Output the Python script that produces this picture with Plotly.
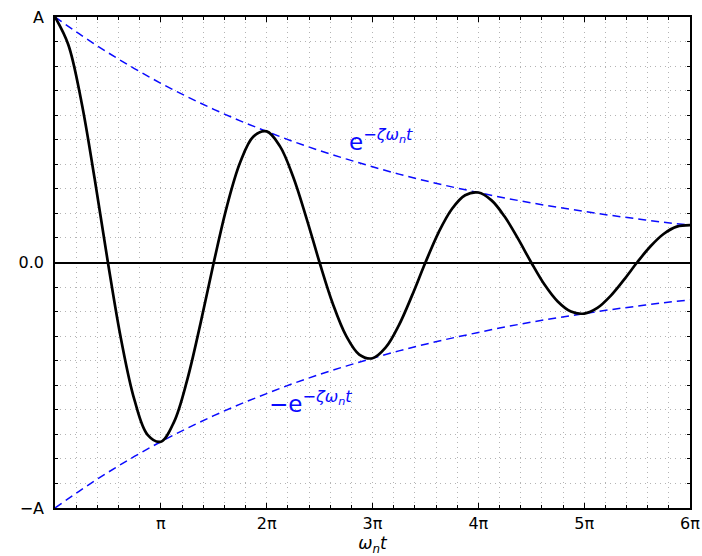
import numpy as np
import plotly.graph_objects as go

PI = np.pi
# sample positions in units of pi (every pi/8)
x_curve_pi = [k / 8 for k in range(49)]
# damped response values (A = 1)
y_curve = [1.000, 0.888, 0.654, 0.340, 0.0, -0.315, -0.559, -0.702,
           -0.730, -0.649, -0.477, -0.248, 0.0, 0.230, 0.408, 0.513,
           0.534, 0.474, 0.349, 0.182, 0.0, -0.168, -0.298, -0.375,
           -0.390, -0.346, -0.255, -0.133, 0.0, 0.123, 0.218, 0.274,
           0.285, 0.253, 0.186, 0.097, 0.0, -0.090, -0.159, -0.200,
           -0.208, -0.185, -0.136, -0.071, 0.0, 0.065, 0.116, 0.146, 0.152]
# envelope sampled every pi/4
x_env_pi = [k / 4 for k in range(25)]
y_env = [1.0, 0.925, 0.855, 0.790, 0.730, 0.675, 0.624, 0.577, 0.534,
         0.493, 0.456, 0.422, 0.390, 0.360, 0.333, 0.308, 0.285,
         0.263, 0.243, 0.225, 0.208, 0.192, 0.178, 0.164, 0.152]
y_env_neg = [-v for v in y_env]

x_tickvals_pi = [1, 2, 3, 4, 5, 6]
x_ticktext = ["π", "2π", "3π", "4π", "5π", "6π"]
y_tickvals = [-1, 0, 1]
y_ticktext = ["−A", "0.0", "A"]

FONT = "DejaVu Sans"
BLUE = "#0a0aff"
GRID = "#b4b4b4"
GRIDDASH = "1px,4px"

fig = go.Figure()
for yy in (y_env, y_env_neg):
    fig.add_trace(go.Scatter(x=[v * PI for v in x_env_pi], y=yy, mode="lines",
                             line=dict(color=BLUE, width=1.5, dash="8px,5px", shape="spline"),
                             hoverinfo="skip"))
fig.add_trace(go.Scatter(x=[v * PI for v in x_curve_pi], y=y_curve, mode="lines",
                         line=dict(color="black", width=2.7, shape="spline"),
                         hoverinfo="skip"))

fig.add_annotation(x=3.08 * PI, y=0.50, text="e<sup>−<i>ζω<sub>n</sub>t</i></sup>",
                   showarrow=False, font=dict(family=FONT, size=23, color=BLUE))
fig.add_annotation(x=2.41 * PI, y=-0.57, text="−e<sup>−<i>ζω<sub>n</sub>t</i></sup>",
                   showarrow=False, font=dict(family=FONT, size=23, color=BLUE))

axis_common = dict(showline=True, linecolor="black", linewidth=1.5, mirror="allticks",
                   ticks="inside", ticklen=5, tickcolor="black", tickwidth=1,
                   showgrid=True, gridcolor=GRID, gridwidth=1, griddash=GRIDDASH,
                   automargin=False,
                   tickfont=dict(family=FONT, size=16, color="black"))

fig.update_xaxes(range=[0, 6 * PI], tickmode="array",
                 tickvals=[v * PI for v in x_tickvals_pi], ticktext=x_ticktext,
                 zeroline=False,
                 minor=dict(tickmode="linear", tick0=0, dtick=PI / 5, ticks="inside",
                            ticklen=3, tickcolor="black", showgrid=True,
                            gridcolor=GRID, griddash=GRIDDASH),
                 title=dict(text="<i>ω<sub>n</sub>t</i>", font=dict(family=FONT, size=17),
                            standoff=2),
                 **axis_common)
fig.update_yaxes(range=[-1, 1], tickmode="array", tickvals=y_tickvals, ticktext=y_ticktext,
                 zeroline=True, zerolinecolor="black", zerolinewidth=1.5,
                 minor=dict(tickmode="linear", tick0=0, dtick=0.1, ticks="inside",
                            ticklen=3, tickcolor="black", showgrid=True,
                            gridcolor=GRID, griddash=GRIDDASH),
                 ticklabelstandoff=6,
                 **axis_common)

fig.update_layout(width=702, height=556, showlegend=False,
                  margin=dict(l=55, r=12, t=17, b=48),
                  plot_bgcolor="white", paper_bgcolor="white",
                  font=dict(family=FONT, color="black"))

fig.write_html("out.html", config={"displayModeBar": False},
               post_script="document.body.style.margin='0';document.body.style.overflow='hidden';")
